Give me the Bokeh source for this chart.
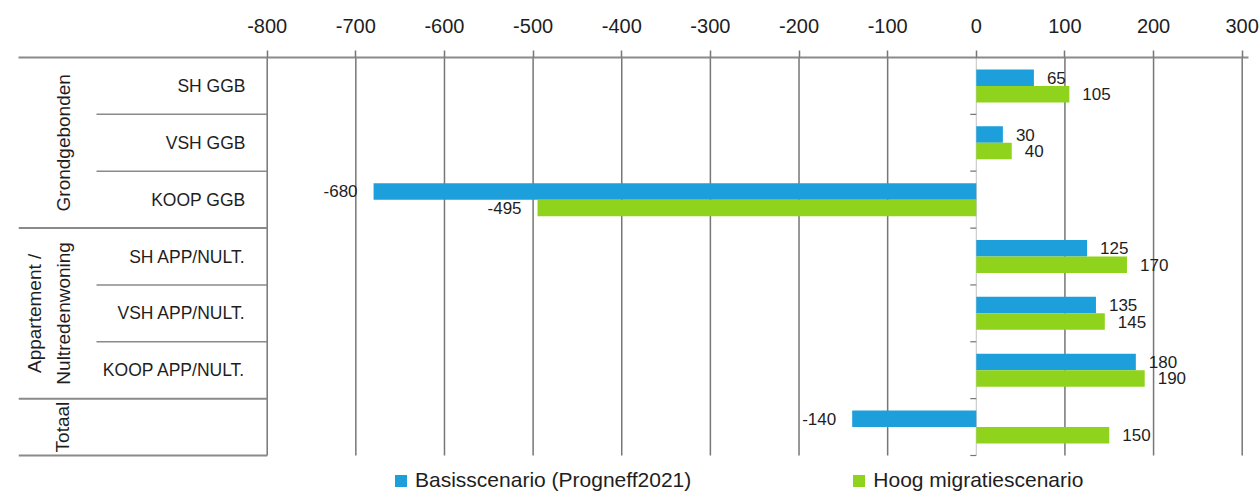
import numpy as np
from bokeh.plotting import figure
from bokeh.models import (ColumnDataSource, Range1d, LinearAxis, FixedTicker,
                          Legend, LegendItem, Grid, PrintfTickFormatter)
from bokeh.core.properties import value
from bokeh.embed import file_html
from bokeh.resources import INLINE

# ---------------- data ----------------
categories = ["SH GGB", "VSH GGB", "KOOP GGB", "SH APP/NULT.", "VSH APP/NULT.",
              "KOOP APP/NULT.", "Totaal"]
row_labels = ["SH GGB", "VSH GGB", "KOOP GGB", "SH APP/NULT.", "VSH APP/NULT.",
              "KOOP APP/NULT.", ""]
basis = [65, 30, -680, 125, 135, 180, -140]
hoog = [105, 40, -495, 170, 145, 190, 150]
series_names = ["Basisscenario (Progneff2021)", "Hoog migratiescenario"]
x_ticks = [-800, -700, -600, -500, -400, -300, -200, -100, 0, 100, 200, 300]
group_labels = ["Grondgebonden", "Appartement /\nNultredenwoning", "Totaal"]
group_mid = ["VSH GGB", "VSH APP/NULT.", "Totaal"]
group_last = ["KOOP GGB", "KOOP APP/NULT.", "Totaal"]

# ---------------- layout helpers ----------------
BLUE = "#1c9fdb"
GREEN = "#8fd31c"
GRID = "#767676"
SEP = "#8a8a8a"
TXT = "#1e1e1e"
SANS = "Liberation Sans"

UPP = 1100 / 975.0          # data units per pixel
ROW_PX = 398 / 7.0          # pixel height of one category row
N = len(categories)


def xpx(page_x):
    """page pixel -> data x (layout helper for annotation positions)"""
    return -800 + (page_x - 266.7) * UPP


# row centres: first category on top
row_y = {c: N - 1 - i + 0.5 for i, c in enumerate(categories)}
yc = np.array([row_y[c] for c in categories])

p = figure(width=1259, height=492,
           x_range=Range1d(xpx(18), xpx(1248)),
           y_range=Range1d(-37 / ROW_PX, N),
           x_axis_location=None, y_axis_location=None,
           toolbar_location=None, output_backend="svg",
           min_border_left=18, min_border_right=11,
           min_border_top=57, min_border_bottom=0)
p.outline_line_color = None
p.background_fill_color = "white"
p.border_fill_color = "white"
p.center = [r for r in p.center if not isinstance(r, Grid)]

# top axis
ax = LinearAxis(ticker=FixedTicker(ticks=x_ticks), formatter=PrintfTickFormatter(format="%d"))
ax.axis_line_color = SEP
ax.axis_line_width = 2
ax.major_tick_line_color = GRID
ax.major_tick_line_width = 1.5
ax.major_tick_out = 7
ax.major_tick_in = 0
ax.minor_tick_line_color = None
ax.major_label_standoff = 18
ax.major_label_text_font = SANS
ax.major_label_text_font_size = "20px"
ax.major_label_text_color = TXT
p.add_layout(ax, "above")

# vertical grid lines (only over the rows)
gl = [t for t in x_ticks if t != 0]
p.segment(x0=gl, x1=gl, y0=0, y1=N, line_color=GRID, line_width=1.5)
p.segment(x0=[0], x1=[0], y0=0, y1=N, line_color="#c4c4c4", line_width=1)

src = ColumnDataSource(dict(
    y=yc,
    yb=yc + 0.145,
    yg=yc - 0.145,
    low=yc - 0.5,
    label=row_labels,
    basis=basis,
    hoog=hoog,
    basis_txt=[str(v) for v in basis],
    hoog_txt=[str(v) for v in hoog],
    basis_align=["left" if v >= 0 else "right" for v in basis],
    hoog_align=["left" if v >= 0 else "right" for v in hoog],
    basis_off=[13 if v >= 0 else -16 for v in basis],
    hoog_off=[13 if v >= 0 else -16 for v in hoog],
))

# small ticks on the zero line at row boundaries
p.segment(x0=-6 * UPP, x1=0, y0="low", y1="low", source=src,
          line_color=GRID, line_width=1.2)

BH = 0.29
rb = p.hbar(y="yb", left=0, right="basis", height=BH, source=src,
            fill_color=BLUE, line_color=None)
rg = p.hbar(y="yg", left=0, right="hoog", height=BH, source=src,
            fill_color=GREEN, line_color=None)

# value labels
p.text(x="basis", y="yb", text="basis_txt",
       x_offset="basis_off", text_align="basis_align", text_baseline="middle",
       text_font=value(SANS), text_font_size=value("17px"), text_color=TXT, source=src)
p.text(x="hoog", y="yg", text="hoog_txt",
       x_offset="hoog_off", text_align="hoog_align", text_baseline="middle",
       text_font=value(SANS), text_font_size=value("17px"), text_color=TXT, source=src)

# row labels on the left
p.text(x=xpx(245), y="y", text="label", text_align="right", text_baseline="middle",
       text_font=value(SANS), text_font_size=value("17.5px"), text_color=TXT, source=src)

# separators in the label area
sub_low = [row_y[c] - 0.5 for c in categories if c not in group_last]
grp_low = [row_y[c] - 0.5 for c in group_last]
p.segment(x0=xpx(96), x1=-800, y0=sub_low, y1=sub_low, line_color=SEP, line_width=1.5)
p.segment(x0=xpx(18), x1=-800, y0=grp_low, y1=grp_low, line_color=SEP, line_width=2)

# group labels (rotated)
gsrc = ColumnDataSource(dict(y=[row_y[c] for c in group_mid], text=group_labels,
                             x=[xpx(63), xpx(48.5), xpx(62)]))
p.text(x="x", y="y", text="text", angle=np.pi / 2, text_align="center",
       text_baseline="middle", text_line_height=1.4,
       text_font=value(SANS), text_font_size=value("19px"), text_color=TXT, source=gsrc)

legend = Legend(items=[LegendItem(label=series_names[0], renderers=[rb]),
                       LegendItem(label=series_names[1], renderers=[rg])],
                orientation="horizontal", location=(375, 0),
                glyph_width=15, glyph_height=15, label_standoff=7, spacing=160,
                padding=0, margin=0, border_line_color=None, background_fill_alpha=0,
                label_text_font=SANS, label_text_font_size="21px", label_text_color=TXT)
p.add_layout(legend, "center")

open("out.html", "w").write(file_html(p, INLINE))
